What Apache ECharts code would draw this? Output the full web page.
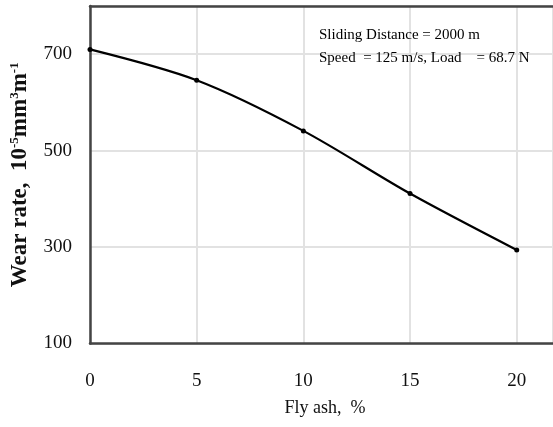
<!DOCTYPE html>
<html>
<head>
<meta charset="utf-8">
<script src="https://cdn.jsdelivr.net/npm/echarts@6/dist/echarts.min.js"></script>
<style>
html,body{margin:0;padding:0;background:#fff;}
#chart{width:553px;height:427px;}
</style>
</head>
<body>
<div id="chart"></div>
<script>
var flyAsh = [0, 5, 10, 15, 20];
var wearRate = [710, 646, 541, 411, 294];
var annotationLines = ['Sliding Distance = 2000 m', 'Speed  = 125 m/s, Load    = 68.7 N'];

var chart = echarts.init(document.getElementById('chart'), null, {renderer: 'canvas'});
var serif = '"Liberation Serif", "DejaVu Serif", serif';
var frame = {show: true, lineStyle: {color: '#444', width: 2.5}};

chart.setOption({
  animation: false,
  backgroundColor: '#fff',
  grid: {
    left: 90, top: 6, bottom: 83.5, right: 0, containLabel: false, outerBoundsMode: 'none'
  },
  xAxis: [{
    type: 'value', min: 0, max: 21.7, interval: 5,
    name: 'Fly ash,  %', nameLocation: 'middle', nameGap: 56,
    nameTextStyle: {fontFamily: serif, fontSize: 18, color: '#111', padding: [0, 0, 0, 7]},
    axisLine: frame, axisTick: {show: false},
    axisLabel: {fontFamily: serif, fontSize: 19, color: '#111', margin: 28, showMaxLabel: false},
    splitLine: {show: true, lineStyle: {color: '#e2e2e2', width: 2}}
  }, {
    type: 'value', min: 0, max: 21.7, interval: 5, position: 'top',
    axisLine: frame, axisTick: {show: false}, axisLabel: {show: false}, splitLine: {show: false}
  }],
  yAxis: {
    type: 'value', min: 100, max: 800, interval: 200,
    name: '{n|Wear rate,  10}{s|-5}{n|mm}{s|3}{n|m}{s|-1}',
    nameLocation: 'middle', nameGap: 57, nameRotate: 90,
    nameTextStyle: {
      fontFamily: serif, fontSize: 23, fontWeight: 'bold', color: '#111',
      rich: {
        n: {fontFamily: serif, fontSize: 23, fontWeight: 'bold', color: '#111'},
        s: {fontFamily: serif, fontSize: 13, fontWeight: 'bold', color: '#111', verticalAlign: 'top', padding: [0, 0, 12, 0]}
      }
    },
    axisLine: frame, axisTick: {show: false},
    axisLabel: {fontFamily: serif, fontSize: 19, color: '#111', margin: 18, showMaxLabel: false},
    splitLine: {show: true, lineStyle: {color: '#e2e2e2', width: 2}}
  },
  graphic: [
    {type: 'text', left: 319, top: 28, z: 100, style: {text: annotationLines[0], font: '15px ' + serif, fill: '#000'}},
    {type: 'text', left: 319, top: 51, z: 100, style: {text: annotationLines[1], font: '15px ' + serif, fill: '#000'}}
  ],
  series: [{
    type: 'line',
    xAxisIndex: 0,
    data: flyAsh.map(function (x, i) { return [x, wearRate[i]]; }),
    smooth: 0.3,
    symbol: 'circle', symbolSize: 5,
    itemStyle: {color: '#000'},
    lineStyle: {color: '#000', width: 2.2}
  }]
});
</script>
</body>
</html>
